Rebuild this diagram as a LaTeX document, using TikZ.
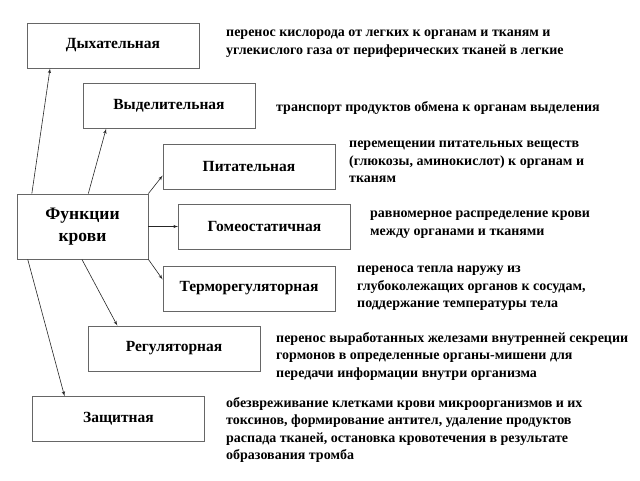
\documentclass[tikz,border=0pt]{standalone}
\usepackage{fontspec}
\setmainfont{Liberation Serif}
\usetikzlibrary{arrows}

\begin{document}
\begin{tikzpicture}[x=1pt,y=-1pt]

\tikzset{func/.style = {shape=rectangle,draw=black!60,line width=0.8pt,minimum width=172pt,minimum height=45pt,font=\bfseries\fontsize{15.5}{17}\selectfont}}
\tikzset{desc/.style = {anchor=north west,align=left,inner sep=0pt,font=\bfseries\fontsize{14}{17.5}\selectfont}}
\tikzset{edge/.style = {->,> = latex',line width=0.6pt,draw=black!85}}
\useasboundingbox (0,0) rectangle (640,480);
%root
\node[func, minimum width=131pt, minimum height=65pt, align=center, font=\bfseries\fontsize{17.5}{22}\selectfont] (blood) at (82.5,226.5) {Функции\\крови};
%functions
\node[func] (resp) at (113,45.5) {Дыхательная};
\node[func] (excr) at (169,106) {Выделительная};
\node[func] (nutr) at (249,166.5) {Питательная};
\node[func] (homeo) at (264.5,226.5) {Гомеостатичная};
\node[func] (therm) at (249,288.5) {Терморегуляторная};
\node[func] (regul) at (174,348.5) {Регуляторная};
\node[func] (prot) at (118.5,419) {Защитная};
%texts
\node[desc] (resptext) at (226,30) {перенос кислорода от легких к органам и тканям и\\углекислого газа от периферических тканей в легкие};
\node[desc] (excrtext) at (276,101) {транспорт продуктов обмена к органам выделения};
\node[desc] (nutrtext) at (349,141) {перемещении питательных веществ\\(глюкозы, аминокислот) к органам и\\тканям};
\node[desc] (homeotext) at (370,211) {равномерное распределение крови\\между органами и тканями};
\node[desc] (thermtext) at (357,266) {переноса тепла наружу из\\глубоколежащих органов к сосудам,\\поддержание температуры тела};
\node[desc] (regultext) at (276,332) {перенос выработанных железами внутренней секреции\\гормонов в определенные органы-мишени для\\передачи информации внутри организма};
\node[desc] (prottext) at (226,397) {обезвреживание клетками крови микроорганизмов и их\\токсинов, формирование антител, удаление продуктов\\распада тканей, остановка кровотечения в результате\\образования тромба};
%edges
\draw [edge] (blood.147) -- (resp.200);
\draw [edge] (blood.80) -- (excr.200);
\draw [edge] (blood.north east) -- (nutr.186);
\draw [edge] (blood.east) -- (homeo.west);
\draw [edge] (blood.south east) -- (therm.174);
\draw [edge] (blood.269) -- (regul.158);
\draw [edge] (blood.211) -- (prot.157);

\end{tikzpicture}
\end{document}
